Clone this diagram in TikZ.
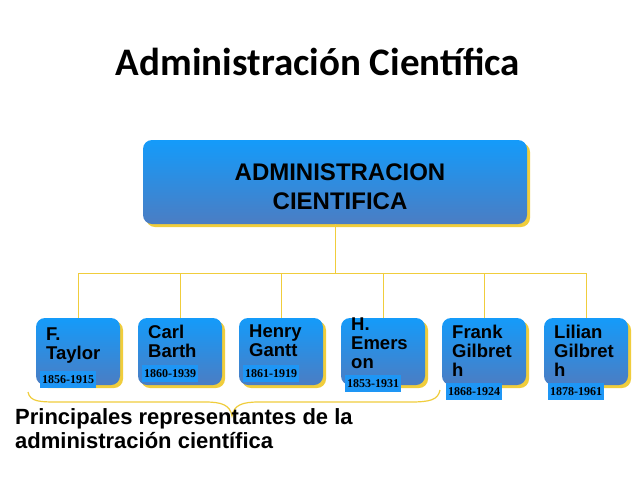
\documentclass[tikz,border=0pt]{standalone}
\usepackage{fontspec}
\setmainfont{Carlito}
\newfontfamily\arialf{Liberation Sans}
\newfontfamily\timesf{Liberation Serif}
\definecolor{btop}{RGB}{20,155,250}
\definecolor{bbot}{RGB}{75,125,195}
\definecolor{gold}{RGB}{240,205,60}
\definecolor{dateblue}{RGB}{30,150,245}
\tikzset{
  bluebox/.style={rounded corners=9pt, top color=btop, bottom color=bbot, draw=none},
  shadowbox/.style={rounded corners=9pt, fill=gold},
  link/.style={draw=gold, line width=0.8pt},
  datebox/.style={fill=dateblue, inner xsep=2pt, inner ysep=0pt, font=\timesf\bfseries\fontsize{12}{13}\selectfont, anchor=north west, minimum height=17pt, text=black},
  nametext/.style={font=\arialf\bfseries\fontsize{18.5}{19}\selectfont, align=left, anchor=north west, inner sep=0pt}
}
\begin{document}
\begin{tikzpicture}[x=1pt,y=-1pt]
\useasboundingbox (0,0) rectangle (640,480);
\fill[white] (0,0) rectangle (640,480);
\node[font=\bfseries\fontsize{39}{44}\selectfont] (title) at (318,62) {Administración Científica};
% main box
\fill[shadowbox] (146,143) rectangle (530,227);
\path[bluebox] (143,140) rectangle (527,224);
\node[font=\arialf\bfseries\fontsize{24}{29}\selectfont, align=center] (main) at (340,187) {ADMINISTRACION\\CIENTIFICA};
\coordinate (mb) at (335,224);
\coordinate (hub) at (335,273);
\draw[link] (mb) -- (hub);
\draw[link] (78,273) -- (586,273);
\foreach \cx/\nm/\txt/\dt/\dy in {
  78/a/{F.\\Taylor}/1856-1915/371,
  180/b/{Carl\\Barth}/1860-1939/365,
  281/c/{Henry\\Gantt}/1861-1919/365,
  383/d/{H.\\Emers\\on}/1853-1931/375,
  484/e/{Frank\\Gilbret\\h}/1868-1924/383,
  586/f/{Lilian\\Gilbret\\h}/1878-1961/383}{
  \draw[link] (\cx,273) -- (\cx,318);
  \fill[shadowbox] (\cx-39,321) rectangle (\cx+45,388);
  \path[bluebox] (\cx-42,318) rectangle (\cx+42,385);
  \node[nametext] (n\nm) at (\cx-32,\ifnum\cx=383 318\else\ifnum\cx=78 328\else 325\fi\fi) {\txt};
  \node[datebox] (d\nm) at (\cx-38,\dy) {\dt};
}
% brace
\draw[gold, line width=1.2pt] (28,392) .. controls (30,402) and (40,402) .. (60,402) -- (205,402) .. controls (222,402) and (230,405) .. (232,416) .. controls (234,405) and (242,402) .. (259,402) -- (410,402) .. controls (430,402) and (438,400) .. (440,390);
\node[font=\arialf\bfseries\fontsize{22}{24}\selectfont, align=left, anchor=north west, inner sep=0pt] (caption) at (15,408) {Principales representantes de la\\administración científica};
\end{tikzpicture}
\end{document}
